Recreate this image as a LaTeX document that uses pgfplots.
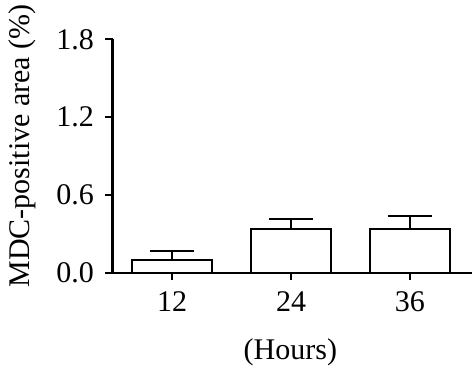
\documentclass[border=0pt]{standalone}
\usepackage{fontspec}
\setmainfont{Liberation Serif}
\usepackage{pgfplots}
\pgfplotsset{compat=1.18}
\begin{document}
\fontsize{30bp}{35bp}\selectfont
\begin{tikzpicture}
\begin{axis}[
  scale only axis,
  width=359bp, height=233.4bp,
  xmin=-0.5, xmax=2.52,
  ymin=0, ymax=1.8,
  axis x line*=bottom, axis y line*=left,
  axis line style={line width=2.4bp},
  xtick={0,1,2}, xticklabels={12,24,36},
  ytick={0,0.6,1.2,1.8},
  yticklabel style={/pgf/number format/fixed,/pgf/number format/fixed zerofill,/pgf/number format/precision=1},
  /pgf/number format/assume math mode=true,
  tick align=outside,
  major tick length=7.5bp,
  tick style={line width=2.4bp, black},
  ticklabel style={font=\fontsize{30bp}{35bp}\selectfont},
  xticklabel style={yshift=-1bp},
  yticklabel style={xshift=-1bp},
  label style={font=\fontsize{30bp}{35bp}\selectfont},
  xlabel={(Hours)},
  ylabel={MDC-positive area (\%)},
  xlabel style={at={(axis description cs:0.495,-0.34)}, anchor=center},
  ylabel style={at={(axis description cs:-0.253,0.543)}, anchor=center, rotate=0},
  clip=false,
]
\addplot[ybar, bar width=0.667, draw=black, fill=white, line width=2bp,
  error bars/.cd, y dir=plus, y explicit,
  error bar style={line width=2bp, black},
  error mark options={rotate=90, mark size=22bp, line width=2bp, black}]
  coordinates {
  (0,0.098) +- (0,0.072)
  (1,0.337) +- (0,0.080)
  (2,0.337) +- (0,0.103)
  };
\end{axis}
\pgfresetboundingbox
\path (current axis.south west) ++(-112.7bp,-103.3bp) rectangle ++(472bp,376bp);
\end{tikzpicture}
\end{document}
